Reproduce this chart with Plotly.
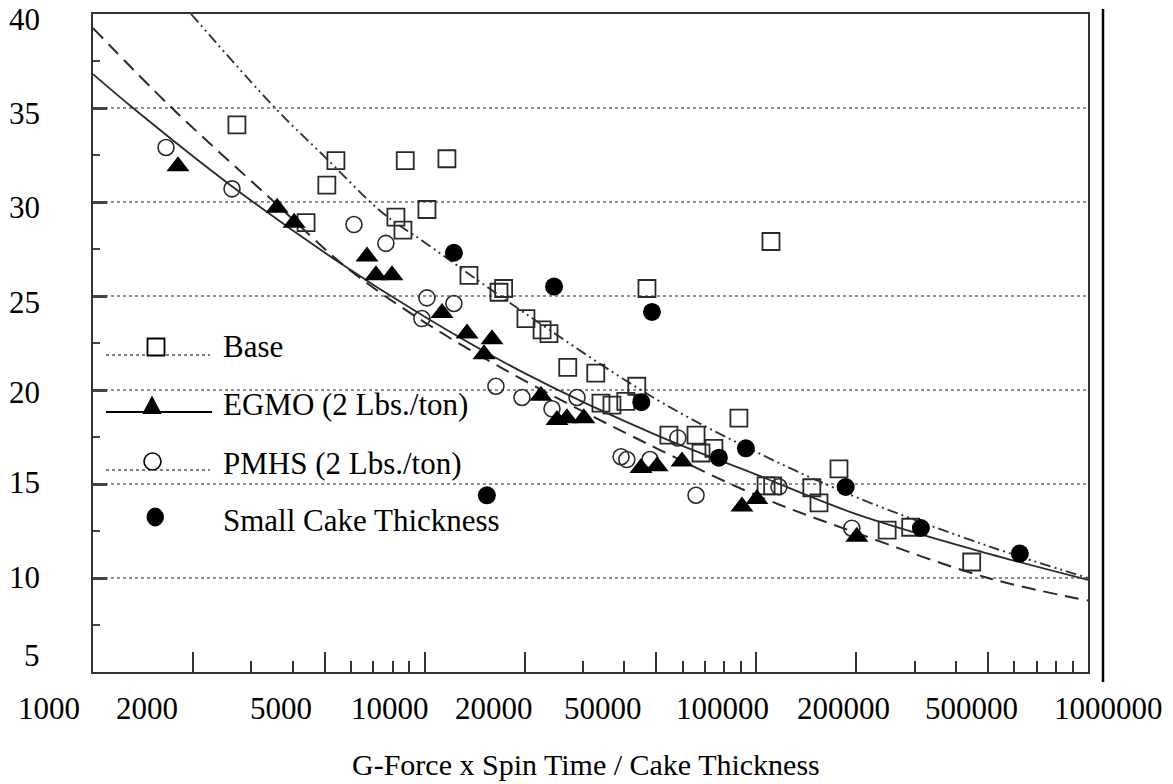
import plotly.graph_objects as go

# ---------------- data ----------------
base_x = [2716, 4390, 5070, 5400, 8190, 8600, 8740, 10160, 11670, 13600, 16750, 17300,
          20200, 22600, 23700, 27000, 32800, 34000, 36700, 40400, 43600, 46800, 54500,
          65800, 68100, 74500, 88600, 107000, 112000, 110700, 147000, 154500, 177500,
          248000, 292000, 446000]
base_y = [34.1, 28.9, 30.9, 32.2, 29.2, 28.5, 32.2, 29.6, 32.3, 26.1, 25.2, 25.4,
          23.8, 23.2, 23.0, 21.2, 20.9, 19.3, 19.2, 19.4, 20.2, 25.4, 17.6,
          17.6, 16.65, 16.9, 18.5, 14.9, 14.9, 27.9, 14.8, 14.0, 15.8,
          12.55, 12.7, 10.85]

egmo_x = [1804, 3590, 4040, 6700, 7130, 7970, 11280, 13420, 15960, 15100, 22420, 25060,
          26850, 30200, 44900, 50200, 59700, 90500, 100400, 201000]
egmo_y = [31.9, 29.7, 28.9, 27.1, 26.1, 26.1, 24.1, 23.0, 22.7, 21.9, 19.7, 18.4,
          18.5, 18.5, 15.85, 15.95, 16.2, 13.8, 14.2, 12.2]

pmhs_x = [1660, 2625, 6120, 7640, 9810, 10160, 12250, 16400, 19650, 24200, 28800,
          39100, 40700, 47800, 58000, 65800, 117000, 194000]
pmhs_y = [32.9, 30.7, 28.8, 27.8, 23.8, 24.9, 24.6, 20.2, 19.6, 19.0, 19.6,
          16.45, 16.3, 16.3, 17.45, 14.4, 14.85, 12.65]

small_x = [12250, 15400, 24550, 45000, 48450, 77100, 93000, 186000, 313500, 623000]
small_y = [27.3, 14.4, 25.5, 19.35, 24.15, 16.4, 16.9, 14.84, 12.66, 11.3]

# fitted curves, read at a few points along each line
base_fit_x = [1975, 3540, 5000, 7490, 10000, 20000, 50000, 100000, 200000, 500000, 1000000]
base_fit_y = [40.0, 35.0, 32.4, 29.4, 27.85, 24.1, 19.5, 16.7, 14.3, 11.7, 10.0]

egmo_fit_x = [1000, 1320, 2640, 5300, 10000, 20000, 50000, 100000, 200000, 500000, 1000000]
egmo_fit_y = [36.8, 35.0, 30.8, 27.0, 23.9, 20.9, 17.6, 15.5, 13.4, 11.3, 9.9]

pmhs_fit_x = [1000, 1730, 3420, 5830, 10000, 20000, 50000, 100000, 200000, 500000, 1000000]
pmhs_fit_y = [39.25, 35.0, 30.2, 26.5, 23.6, 20.5, 16.9, 14.4, 12.4, 10.0, 8.8]

legend_names = ["Base", "EGMO (2 Lbs./ton)", "PMHS (2 Lbs./ton)", "Small Cake Thickness"]

xtick_text = ["1000", "2000", "5000", "10000", "20000", "50000", "100000", "200000",
              "500000", "1000000"]
ytick_text = ["40", "35", "30", "25", "20", "15", "10", "5"]
ytick_vals = [40, 35, 30, 25, 20, 15, 10, 5]
x_major = [2000, 5000, 10000, 20000, 50000, 100000, 200000, 500000]
x_minor = [3000, 4000, 6000, 7000, 8000, 9000, 30000, 40000, 60000, 70000, 80000, 90000,
           300000, 400000, 600000, 700000, 800000, 900000]
y_grid = [10, 15, 20, 25, 30, 35]
y_minor = [7.5, 12.5, 17.5, 22.5, 27.5, 32.5, 37.5]
x_title = "G-Force x Spin Time / Cake Thickness"

# ---------------- layout geometry (pixels) ----------------
W, H = 1173, 784
PL, PR, PT, PB = 93, 1088, 14, 672


def px(x):
    return (x - PL) / (PR - PL)


def py(y):
    return (PB - y) / (PB - PT)


FONT = "Liberation Serif, Times New Roman, serif"
INK = "#2a2a2a"

fig = go.Figure()

# fitted curves
fig.add_trace(go.Scatter(x=base_fit_x, y=base_fit_y, mode="lines", hoverinfo="skip",
                         line=dict(color="#333333", width=1.9, shape="spline",
                                   dash="11px,4px,2px,4px,2px,4px")))
fig.add_trace(go.Scatter(x=egmo_fit_x, y=egmo_fit_y, mode="lines", hoverinfo="skip",
                         line=dict(color=INK, width=1.8, shape="spline")))
fig.add_trace(go.Scatter(x=pmhs_fit_x, y=pmhs_fit_y, mode="lines", hoverinfo="skip",
                         line=dict(color=INK, width=2.0, shape="spline", dash="14px,8px")))

# data markers
fig.add_trace(go.Scatter(x=base_x, y=base_y, mode="markers", name=legend_names[0],
                         marker=dict(symbol="square-open", size=17, color=INK,
                                     line=dict(width=1.8, color=INK))))
fig.add_trace(go.Scatter(x=pmhs_x, y=pmhs_y, mode="markers", name=legend_names[2],
                         marker=dict(symbol="circle-open", size=16, color=INK,
                                     line=dict(width=1.6, color=INK))))
fig.add_trace(go.Scatter(x=egmo_x, y=egmo_y, mode="markers", name=legend_names[1],
                         marker=dict(symbol="triangle-up", size=20, color="black",
                                     line=dict(width=0))))
fig.add_trace(go.Scatter(x=small_x, y=small_y, mode="markers", name=legend_names[3],
                         marker=dict(symbol="circle", size=18, color="black",
                                     line=dict(width=0))))

annotations = []
# y tick labels
y_label_shift = [-5, -5, -5, -6, -2, 2, 1, 17]
for v, t, s in zip(ytick_vals, ytick_text, y_label_shift):
    annotations.append(dict(x=px(42), y=v, xref="paper", yref="y", text=t, showarrow=False,
                            xanchor="right", yanchor="middle", yshift=s,
                            font=dict(family=FONT, size=31, color="black")))
# x tick labels
x_label_px = [49, 147, 281, 390, 494, 603, 722, 843, 971, 1108]
for t, c in zip(xtick_text, x_label_px):
    annotations.append(dict(x=px(c), y=py(708), xref="paper", yref="paper", text=t,
                            showarrow=False, xanchor="center", yanchor="middle",
                            font=dict(family=FONT, size=31, color="black")))
# axis title
annotations.append(dict(x=px(586), y=py(764), xref="paper", yref="paper", text=x_title,
                        showarrow=False, xanchor="center", yanchor="middle",
                        font=dict(family=FONT, size=30, color="black")))

# legend (drawn inside the plot)
legend_text_y = [345, 403, 462, 518]
for name, ty in zip(legend_names, legend_text_y):
    annotations.append(dict(x=px(221), y=py(ty + 2), xref="paper", yref="paper", text=name,
                            showarrow=False, xanchor="left", yanchor="middle",
                            font=dict(family=FONT, size=31, color="black")))

shapes = []
# legend keys
shapes.append(dict(type="line", xref="paper", yref="paper", x0=px(106), x1=px(210),
                   y0=py(355), y1=py(355), line=dict(color="#555", width=1.6, dash="dot")))
shapes.append(dict(type="rect", xref="paper", yref="paper", x0=px(147.5), x1=px(164.5),
                   y0=py(355.5), y1=py(338.5), fillcolor="white",
                   line=dict(color="black", width=1.8)))
shapes.append(dict(type="line", xref="paper", yref="paper", x0=px(106), x1=px(212),
                   y0=py(412), y1=py(412), line=dict(color="black", width=2)))
tri = "M {:.5f},{:.5f} L {:.5f},{:.5f} L {:.5f},{:.5f} Z".format(
    px(143), py(413.5), px(161), py(413.5), px(152), py(396.5))
shapes.append(dict(type="path", xref="paper", yref="paper", path=tri, fillcolor="black",
                   line=dict(color="black", width=1)))
shapes.append(dict(type="line", xref="paper", yref="paper", x0=px(106), x1=px(210),
                   y0=py(470), y1=py(470), line=dict(color="#555", width=1.6, dash="dot")))
shapes.append(dict(type="circle", xref="paper", yref="paper", x0=px(144), x1=px(161),
                   y0=py(470), y1=py(453), fillcolor="white",
                   line=dict(color="black", width=1.6)))
shapes.append(dict(type="circle", xref="paper", yref="paper", x0=px(147), x1=px(163.5),
                   y0=py(526), y1=py(508), fillcolor="black",
                   line=dict(color="black", width=1)))
# separate vertical rule at the right
shapes.append(dict(type="line", xref="paper", yref="paper", x0=px(1103), x1=px(1103),
                   y0=py(682), y1=py(9), line=dict(color="black", width=2.5)))

fig.update_layout(
    width=W, height=H,
    margin=dict(l=PL, r=W - PR, t=PT, b=H - PB, pad=0),
    paper_bgcolor="white", plot_bgcolor="white",
    showlegend=False,
    annotations=annotations,
    shapes=shapes,
    xaxis=dict(type="log", range=[3, 6], showgrid=False, zeroline=False,
               showline=True, mirror=True, linecolor="#333", linewidth=2.2,
               tickmode="array", tickvals=x_major, ticks="inside", ticklen=20,
               tickwidth=2, tickcolor="#333", showticklabels=False,
               minor=dict(tickmode="array", tickvals=x_minor, ticks="inside",
                          ticklen=11, tickwidth=2, tickcolor="#333", showgrid=False)),
    yaxis=dict(range=[5, 40], showgrid=True, gridcolor="#8f8f8f", griddash="dot",
               gridwidth=1.5, zeroline=False,
               showline=True, mirror=True, linecolor="#333", linewidth=2.2,
               tickmode="array", tickvals=y_grid, ticks="inside", ticklen=14,
               tickwidth=2.5, tickcolor="#444", showticklabels=False,
               minor=dict(tickmode="array", tickvals=y_minor, ticks="inside",
                          ticklen=7, tickwidth=2, tickcolor="#444", showgrid=False)),
)

fig.write_html("out.html")
